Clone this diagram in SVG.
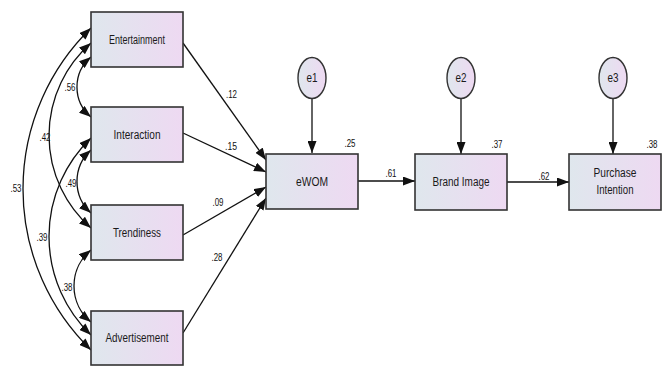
<svg xmlns="http://www.w3.org/2000/svg" width="664" height="370" viewBox="0 0 664 370">
  <style>
    .box { fill: url(#fillGrad); stroke: #333; stroke-width: 1.6; }
    .err { fill: url(#fillGrad); stroke: #333; stroke-width: 1.4; }
    .lbl { font-family: "Liberation Sans Narrow", "Liberation Sans", Arial, sans-serif; font-size: 12.5px; fill: #1a1a1a; text-anchor: middle; }
    .num { font-family: "Liberation Sans Narrow", "Liberation Sans", Arial, sans-serif; font-size: 11.5px; fill: #111; text-anchor: middle; }
    .edge { fill: none; stroke: #111; stroke-width: 1.3; }
    .path { marker-end: url(#arrow); }
    .cov { marker-start: url(#arrow); marker-end: url(#arrow); }
  </style>
  <defs>
    <linearGradient id="fillGrad" x1="0" y1="0" x2="1" y2="0">
      <stop offset="0" stop-color="#dfe7ed"/>
      <stop offset="1" stop-color="#eed9f2"/>
    </linearGradient>
    <marker id="arrow" markerUnits="userSpaceOnUse" markerWidth="12" markerHeight="9" refX="12" refY="4.5" orient="auto-start-reverse">
      <path d="M0,0 L12,4.5 L0,9 z" fill="#111"/>
    </marker>
  </defs>

  <rect width="664" height="370" fill="#ffffff"/>

  <!-- connectors -->
  <g id="connectors">
    <!-- covariances between exogenous variables -->
    <path class="edge cov" d="M91,28 A224.6,224.6 0 0 0 91,350"/>
    <path class="edge cov" d="M91,43 A122.9,122.9 0 0 0 91,228"/>
    <path class="edge cov" d="M91,57 A39.1,39.1 0 0 0 91,117"/>
    <path class="edge cov" d="M91,138 A136.5,136.5 0 0 0 91,335"/>
    <path class="edge cov" d="M91,150 A42.4,42.4 0 0 0 91,213"/>
    <path class="edge cov" d="M91,250 A46.6,46.6 0 0 0 91,322"/>
    <!-- regression paths -->
    <path class="edge path" d="M183,43 L266,160"/>
    <path class="edge path" d="M183,133 L266,172"/>
    <path class="edge path" d="M183,235 L266,187"/>
    <path class="edge path" d="M183,333 L266,198"/>
    <path class="edge path" d="M358,181 L415,181"/>
    <path class="edge path" d="M507,182 L569,182"/>
    <!-- error terms -->
    <path class="edge path" d="M312,99 L312,153"/>
    <path class="edge path" d="M461,99 L461,154"/>
    <path class="edge path" d="M613,99 L613,154"/>

    <!-- coefficient labels -->
    <text class="num" x="16" y="192" textLength="11" lengthAdjust="spacingAndGlyphs">.53</text>
    <text class="num" x="45" y="141" textLength="11" lengthAdjust="spacingAndGlyphs">.42</text>
    <text class="num" x="70" y="91" textLength="11" lengthAdjust="spacingAndGlyphs">.56</text>
    <text class="num" x="71" y="187" textLength="11" lengthAdjust="spacingAndGlyphs">.49</text>
    <text class="num" x="42" y="241" textLength="11" lengthAdjust="spacingAndGlyphs">.39</text>
    <text class="num" x="67" y="291" textLength="11" lengthAdjust="spacingAndGlyphs">.38</text>
    <text class="num" x="231.5" y="98" textLength="11" lengthAdjust="spacingAndGlyphs">.12</text>
    <text class="num" x="231" y="150" textLength="12" lengthAdjust="spacingAndGlyphs">.15</text>
    <text class="num" x="218" y="206" textLength="11" lengthAdjust="spacingAndGlyphs">.09</text>
    <text class="num" x="217" y="261" textLength="11" lengthAdjust="spacingAndGlyphs">.28</text>
    <text class="num" x="391" y="177" textLength="11" lengthAdjust="spacingAndGlyphs">.61</text>
    <text class="num" x="544" y="180" textLength="11" lengthAdjust="spacingAndGlyphs">.62</text>
  </g>

  <!-- exogenous variables -->
  <g id="entertainment">
    <rect class="box" x="91" y="12" width="92" height="55"/>
    <text class="lbl" x="137" y="44" textLength="56" lengthAdjust="spacingAndGlyphs">Entertainment</text>
  </g>
  <g id="interaction">
    <rect class="box" x="91" y="107" width="92" height="55"/>
    <text class="lbl" x="137" y="139" textLength="47" lengthAdjust="spacingAndGlyphs">Interaction</text>
  </g>
  <g id="trendiness">
    <rect class="box" x="91" y="205" width="92" height="55"/>
    <text class="lbl" x="137" y="237" textLength="48" lengthAdjust="spacingAndGlyphs">Trendiness</text>
  </g>
  <g id="advertisement">
    <rect class="box" x="91" y="311" width="92" height="54"/>
    <text class="lbl" x="137" y="342" textLength="63" lengthAdjust="spacingAndGlyphs">Advertisement</text>
  </g>

  <!-- endogenous variables -->
  <g id="ewom">
    <rect class="box" x="266" y="154" width="92" height="55"/>
    <text class="lbl" x="312" y="186" textLength="32" lengthAdjust="spacingAndGlyphs">eWOM</text>
    <text class="num" x="350" y="147" textLength="11" lengthAdjust="spacingAndGlyphs">.25</text>
  </g>
  <g id="brand-image">
    <rect class="box" x="415" y="154" width="92" height="56"/>
    <text class="lbl" x="461" y="186" textLength="57" lengthAdjust="spacingAndGlyphs">Brand Image</text>
    <text class="num" x="497" y="148" textLength="11" lengthAdjust="spacingAndGlyphs">.37</text>
  </g>
  <g id="purchase-intention">
    <rect class="box" x="569" y="154" width="92" height="56"/>
    <text class="lbl" x="615" y="177" textLength="43" lengthAdjust="spacingAndGlyphs">Purchase</text>
    <text class="lbl" x="615" y="194" textLength="37" lengthAdjust="spacingAndGlyphs">Intention</text>
    <text class="num" x="652" y="148" textLength="11" lengthAdjust="spacingAndGlyphs">.38</text>
  </g>

  <!-- error terms -->
  <g id="e1">
    <ellipse class="err" cx="312" cy="78" rx="14" ry="20.5"/>
    <text class="lbl" x="312" y="82" textLength="11" lengthAdjust="spacingAndGlyphs">e1</text>
  </g>
  <g id="e2">
    <ellipse class="err" cx="461" cy="78" rx="14" ry="20.5"/>
    <text class="lbl" x="461" y="82" textLength="11" lengthAdjust="spacingAndGlyphs">e2</text>
  </g>
  <g id="e3">
    <ellipse class="err" cx="613" cy="78" rx="14" ry="20.5"/>
    <text class="lbl" x="613" y="82" textLength="11" lengthAdjust="spacingAndGlyphs">e3</text>
  </g>
</svg>
